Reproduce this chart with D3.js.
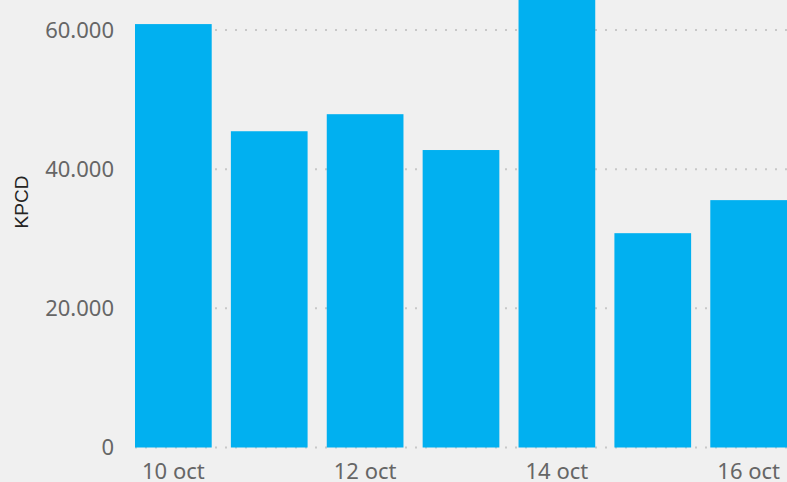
<!DOCTYPE html>
<html>
<head>
<meta charset="utf-8">
<script src="https://d3js.org/d3.v7.min.js"></script>
<style>
  body { margin: 0; background: #f0f0f0; }
  svg { display: block; }
</style>
</head>
<body>
<svg id="chart" width="787" height="482"></svg>
<script>
// data
var days = ["10 oct", "11 oct", "12 oct", "13 oct", "14 oct", "15 oct", "16 oct"];
var kpcd = [60850, 45450, 47900, 42750, 68000, 30800, 35550];
var yTicks = [0, 20000, 40000, 60000];
var xLabels = ["10 oct", "12 oct", "14 oct", "16 oct"];

var svg = d3.select("#chart"),
  width = +svg.attr("width"),
  height = +svg.attr("height");

svg.append("rect")
  .attr("width", width)
  .attr("height", height)
  .attr("fill", "#f0f0f0");

var x = d3.scaleBand()
  .domain(days)
  .range([135, 787])
  .paddingInner(0.2)
  .paddingOuter(0);

var y = d3.scaleLinear()
  .domain([0, 60000])
  .range([447.5, 30]);

var fmt = function (d) { return d3.format(",")(d).replace(/,/g, "."); };

// dotted gridlines
svg.append("g")
  .selectAll("line")
  .data(yTicks)
  .enter().append("line")
  .attr("x1", 135)
  .attr("x2", width)
  .attr("y1", function (d) { return y(d); })
  .attr("y2", function (d) { return y(d); })
  .attr("stroke", "#c8c8c8")
  .attr("stroke-width", 2)
  .attr("stroke-dasharray", "2,8");

// bars
svg.append("g")
  .selectAll("rect")
  .data(kpcd)
  .enter().append("rect")
  .attr("x", function (d, i) { return x(days[i]); })
  .attr("width", x.bandwidth())
  .attr("y", function (d) { return y(d); })
  .attr("height", function (d) { return y(0) - y(d); })
  .attr("fill", "#01b0f0");

// y axis labels
var yAxis = svg.append("g")
  .attr("transform", "translate(114,0)")
  .call(d3.axisLeft(y).tickValues(yTicks).tickSize(0).tickPadding(0).tickFormat(fmt));
yAxis.select(".domain").remove();
yAxis.selectAll("text")
  .attr("font-family", "'Noto Sans', 'Open Sans', sans-serif")
  .attr("font-size", 22)
  .attr("fill", "#666666");

// x axis labels (every other day)
var xAxis = svg.append("g")
  .attr("transform", "translate(0,463)")
  .call(d3.axisBottom(x).tickValues(xLabels).tickSize(0).tickPadding(0));
xAxis.select(".domain").remove();
xAxis.selectAll("text")
  .attr("font-family", "'Noto Sans', 'Open Sans', sans-serif")
  .attr("font-size", 22)
  .attr("fill", "#666666");

// axis title
svg.append("text")
  .attr("transform", "translate(28,202) rotate(-90)")
  .attr("text-anchor", "middle")
  .attr("font-family", "'Liberation Sans', Arial, sans-serif")
  .attr("font-size", 19)
  .attr("fill", "#252423")
  .text("KPCD");
</script>
</body>
</html>
